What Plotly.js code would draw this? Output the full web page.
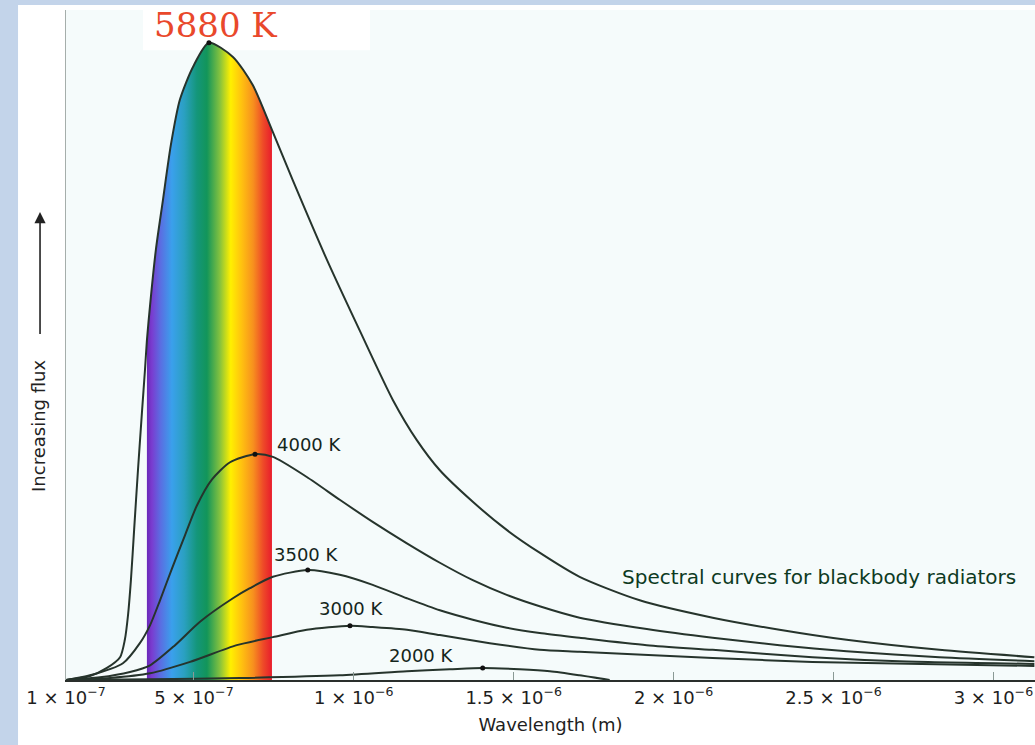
<!DOCTYPE html>
<html>
<head>
<meta charset="utf-8">
<script src="https://cdn.plot.ly/plotly-3.0.1.min.js"></script>
<style>html,body{margin:0;padding:0;background:#fff;}#chart{width:1035px;height:745px;}</style>
</head>
<body>
<div id="chart"></div>
<script>
// Wavelengths in micrometres (converted to metres for the axis), flux in arbitrary units
const wl5880 = [0.100, 0.175, 0.228, 0.269, 0.284, 0.294, 0.303, 0.313, 0.325, 0.338, 0.347, 0.353, 0.363, 0.381, 0.403, 0.428, 0.456, 0.497, 0.547, 0.622, 0.684, 0.744, 0.809, 0.916, 1.019, 1.122, 1.197, 1.269, 1.372, 1.478, 1.581, 1.706, 1.894, 2.122, 2.331, 2.541, 2.831, 3.128];
const flux5880 = [0, 0.6, 1.8, 3.4, 6.0, 9.7, 14.9, 22.4, 31.3, 40.3, 46.3, 50.7, 56.0, 64.2, 71.6, 79.9, 86.6, 91.5, 95.1, 93.0, 88.8, 82.1, 74.6, 62.7, 52.1, 41.8, 35.8, 31.3, 26.6, 22.4, 19.0, 15.4, 11.9, 9.3, 7.5, 6.0, 4.5, 3.4];

const wl4000 = [0.100, 0.175, 0.278, 0.331, 0.363, 0.394, 0.431, 0.472, 0.509, 0.556, 0.613, 0.691, 0.747, 0.853, 0.956, 1.059, 1.166, 1.269, 1.372, 1.478, 1.581, 1.706, 1.916, 2.122, 2.331, 2.541, 2.831, 3.128];
const flux4000 = [0, 0.7, 2.5, 5.5, 8.2, 11.9, 16.6, 21.6, 26.0, 29.9, 32.5, 33.7, 33.3, 30.3, 26.9, 23.6, 20.4, 17.5, 14.9, 12.7, 11.0, 9.3, 7.6, 6.3, 5.2, 4.3, 3.4, 2.8];

const wl3500 = [0.100, 0.206, 0.300, 0.363, 0.441, 0.519, 0.622, 0.675, 0.747, 0.856, 0.956, 1.059, 1.166, 1.269, 1.372, 1.478, 1.581, 1.706, 1.916, 2.122, 2.434, 2.706, 3.128];
const flux3500 = [0, 0.4, 1.2, 2.2, 5.2, 8.7, 12.2, 13.7, 15.4, 16.4, 15.7, 14.2, 12.2, 10.4, 9.0, 7.8, 7.0, 6.3, 5.2, 4.5, 3.4, 2.8, 2.4];

const wl3000 = [0.100, 0.238, 0.363, 0.488, 0.634, 0.747, 0.853, 0.988, 1.059, 1.166, 1.269, 1.425, 1.581, 1.706, 2.122, 2.434, 3.128];
const flux3000 = [0, 0.3, 1.0, 2.7, 5.2, 6.4, 7.5, 8.1, 7.9, 7.5, 6.7, 5.5, 4.5, 4.2, 3.3, 2.7, 2.1];

const wl2000 = [0.100, 0.363, 0.644, 0.956, 1.166, 1.300, 1.403, 1.519, 1.613, 1.706, 1.800];
const flux2000 = [0, 0.1, 0.3, 0.7, 1.3, 1.6, 1.8, 1.6, 1.3, 0.7, 0];

const visibleBand = [0.353, 0.744];   // µm, edges of the rainbow band

const tickValsUm = [0.1, 0.5, 1.0, 1.5, 2.0, 2.5, 3.0];
const tickText = ['1 × 10<sup>−7</sup>', '5 × 10<sup>−7</sup>', '1 × 10<sup>−6</sup>', '1.5 × 10<sup>−6</sup>', '2 × 10<sup>−6</sup>', '2.5 × 10<sup>−6</sup>', '3 × 10<sup>−6</sup>'];

const curveLabels = ['4000 K', '3500 K', '3000 K', '2000 K'];
const curveLabelPos = [[0.753, 35.1], [0.744, 18.7], [0.884, 10.6], [1.103, 3.6]];

const toM = a => a.map(v => v * 1e-6);

const series = [
  {name: '5880 K', wl: wl5880, f: flux5880},
  {name: '4000 K', wl: wl4000, f: flux4000},
  {name: '3500 K', wl: wl3500, f: flux3500},
  {name: '3000 K', wl: wl3000, f: flux3000},
  {name: '2000 K', wl: wl2000, f: flux2000}
];

const traces = [];

// rainbow under the 5880 K curve
const bandX = [], bandY = [];
wl5880.forEach((w, i) => { if (w >= visibleBand[0] && w <= visibleBand[1]) { bandX.push(w); bandY.push(flux5880[i]); } });
traces.push({
  type: 'scatter', mode: 'lines', x: toM(bandX), y: bandY,
  line: {width: 0, shape: 'spline', smoothing: 0.7},
  fill: 'tozeroy',
  fillgradient: {
    type: 'horizontal',
    start: visibleBand[0] * 1e-6, stop: visibleBand[1] * 1e-6,
    colorscale: [
      [0.00, '#6a28b8'], [0.04, '#7a3cd0'], [0.11, '#5a6ee2'], [0.20, '#3aa0ec'],
      [0.30, '#2aa0c0'], [0.40, '#14967a'], [0.48, '#12955a'], [0.58, '#80c040'],
      [0.67, '#fff000'], [0.76, '#ffc010'], [0.85, '#f7901e'], [0.93, '#ee4a28'], [1.00, '#e81c2c']
    ]
  },
  hoverinfo: 'skip'
});

series.forEach(s => {
  traces.push({
    type: 'scatter', mode: 'lines', name: s.name, x: toM(s.wl), y: s.f,
    line: {color: '#26342c', width: 2, shape: 'spline', smoothing: 0.7}
  });
});

// peak dots
const peakX = [], peakY = [];
series.forEach(s => {
  let m = 0; s.f.forEach((v, i) => { if (v > s.f[m]) m = i; });
  peakX.push(s.wl[m] * 1e-6); peakY.push(s.f[m]);
});
traces.push({type: 'scatter', mode: 'markers', x: peakX, y: peakY, marker: {color: '#111', size: 5}, hoverinfo: 'skip'});

const annotations = [];
curveLabels.forEach((t, i) => {
  annotations.push({x: curveLabelPos[i][0] * 1e-6, y: curveLabelPos[i][1], text: t, showarrow: false,
    xanchor: 'left', yanchor: 'middle', font: {family: 'DejaVu Sans', size: 18, color: '#14261c'}});
});
annotations.push({x: 1.831e-6, y: 15.4, text: 'Spectral curves for blackbody radiators', showarrow: false,
  xanchor: 'left', yanchor: 'middle', font: {family: 'DejaVu Sans', size: 20, color: '#0d3a1f'}});
annotations.push({x: 0.569e-6, y: 97.8, text: '5880 K', showarrow: false, xanchor: 'center', yanchor: 'middle',
  font: {family: 'DejaVu Serif', size: 34, color: '#e9482b'}});
// y-axis title and arrow
annotations.push({xref: 'paper', yref: 'paper', x: -0.029, y: 0.379, text: 'Increasing flux', textangle: -90,
  showarrow: false, xanchor: 'center', yanchor: 'middle', font: {family: 'DejaVu Sans', size: 18, color: '#222'}});
annotations.push({xref: 'paper', yref: 'paper', x: -0.0268, y: 0.6985, text: ' ', showarrow: true,
  ax: 0, ay: 132, arrowhead: 2, arrowsize: 1.4, arrowwidth: 1.6, arrowcolor: '#222'});

const layout = {
  width: 1035, height: 745,
  margin: {l: 66, r: 0, t: 10, b: 65},
  paper_bgcolor: '#ffffff', plot_bgcolor: '#f5fbfb',
  showlegend: false,
  xaxis: {
    range: [1e-7, 3.13e-6], tickvals: toM(tickValsUm), ticktext: tickText,
    ticks: 'inside', ticklen: 8, tickcolor: '#8a9a95', tickwidth: 1,
    showline: true, linecolor: '#2a2f2c', linewidth: 2, showgrid: false, zeroline: false,
    tickfont: {family: 'DejaVu Sans', size: 18, color: '#1e1e1e'},
    title: {text: 'Wavelength (m)', font: {family: 'DejaVu Sans', size: 18, color: '#1e1e1e'}, standoff: 12}
  },
  yaxis: {
    range: [0, 100], showticklabels: false, ticks: '', showgrid: false, zeroline: false,
    showline: true, linecolor: '#a5aeab', linewidth: 1.5
  },
  shapes: [
    {type: 'rect', xref: 'paper', yref: 'paper', x0: -0.07, x1: -0.0495, y0: -0.12, y1: 1.02, fillcolor: '#c3d4ea', line: {width: 0}, layer: 'below'},
    {type: 'rect', xref: 'paper', yref: 'paper', x0: -0.07, x1: 1.01, y0: 1.0075, y1: 1.02, fillcolor: '#c3d4ea', line: {width: 0}, layer: 'below'},
    {type: 'rect', xref: 'paper', yref: 'paper', x0: 0.0795, x1: 0.3137, y0: 0.94, y1: 1.0, fillcolor: '#ffffff', line: {width: 0}, layer: 'below'}
  ],
  annotations: annotations
};

Plotly.newPlot('chart', traces, layout, {displayModeBar: false, staticPlot: true});
</script>
</body>
</html>
